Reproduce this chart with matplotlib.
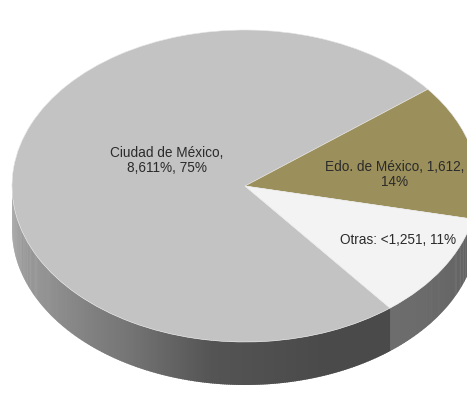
import numpy as np
import matplotlib
matplotlib.use("Agg")
import matplotlib.pyplot as plt
from matplotlib.patches import Polygon

# ---- data ----
categories = ["Ciudad de México", "Edo. de México", "Otras"]
values = [8611, 1612, 1251]
label_texts = ["Ciudad de México,\n8,611%, 75%",
               "Edo. de México, 1,612,\n14%",
               "Otras: <1,251, 11%"]

# ---- style / layout ----
top_colors = ["#c3c3c3", "#9b8f5b", "#f3f3f3"]
start_angle = -51.5          # degrees, slices drawn clockwise
W, H = 467, 399
cx_px, cy_px = 245, 186      # centre of top face in pixels
rx_px, ry_px = 233, 156      # radii of top face in pixels
depth = 43 / ry_px           # side height in data units (y)
label_pos = [(-0.335, 0.165), (0.644, 0.075), (0.655, -0.345)]

plt.rcParams['font.family'] = ['Liberation Sans', 'DejaVu Sans']

fig = plt.figure(figsize=(W / 100, H / 100), dpi=100)
ax = fig.add_axes([0, 0, 1, 1])

# pie top face (unit circle in data coords, squashed by axis limits)
wedges, _ = ax.pie(values, colors=top_colors, startangle=start_angle,
                   counterclock=False, radius=1, center=(0, 0), frame=True,
                   wedgeprops=dict(linewidth=0.4, edgecolor="#e8e8e8"))
for w in wedges:
    w.set_zorder(3)

# slice angle ranges (counter-clockwise degrees) from the same values
fracs = np.array(values, dtype=float) / np.sum(values)
ends = start_angle - 360 * np.cumsum(fracs)
starts = np.concatenate([[start_angle], ends[:-1]])

def side_shade(theta, idx):
    t = theta % 360
    if idx == 0:
        v = np.interp(t, [180, 210, 240, 262, 290, 330], [0.63, 0.58, 0.46, 0.33, 0.29, 0.29])
        return (v, v, v)
    if idx == 2:
        v = np.interp(t, [290, 320, 360], [0.44, 0.42, 0.36])
        return (v, v, v)
    v = np.interp(t, [340, 360], [0.40, 0.36])
    return (v * 1.05, v * 0.97, v * 0.62)

step = 0.5
for idx, (a0, a1) in enumerate(zip(starts, ends)):
    lo, hi = min(a0, a1), max(a0, a1)
    th = np.arange(lo, hi + 1e-9, step)
    if th[-1] < hi:
        th = np.append(th, hi)
    for t1, t2 in zip(th[:-1], th[1:]):
        tm = np.deg2rad((t1 + t2) / 2)
        if np.sin(tm) > 0:
            continue
        r1, r2 = np.deg2rad(t1), np.deg2rad(t2 + 0.3)
        pts = [(np.cos(r1), np.sin(r1)), (np.cos(r2), np.sin(r2)),
               (np.cos(r2), np.sin(r2) - depth), (np.cos(r1), np.sin(r1) - depth)]
        ax.add_patch(Polygon(pts, closed=True, facecolor=side_shade((t1 + t2) / 2, idx),
                             edgecolor="none", zorder=1))

for (x, y), s in zip(label_pos, label_texts):
    ax.text(x, y, s, ha="center", va="center", fontsize=9.8, color="#2b2b2b",
            zorder=5, linespacing=1.05)

ax.set_aspect('auto')
ax.set_xlim(-cx_px / rx_px, (W - cx_px) / rx_px)
ax.set_ylim(-(H - cy_px) / ry_px, cy_px / ry_px)
ax.axis('off')
fig.savefig("out.png", dpi=100, facecolor="white")
